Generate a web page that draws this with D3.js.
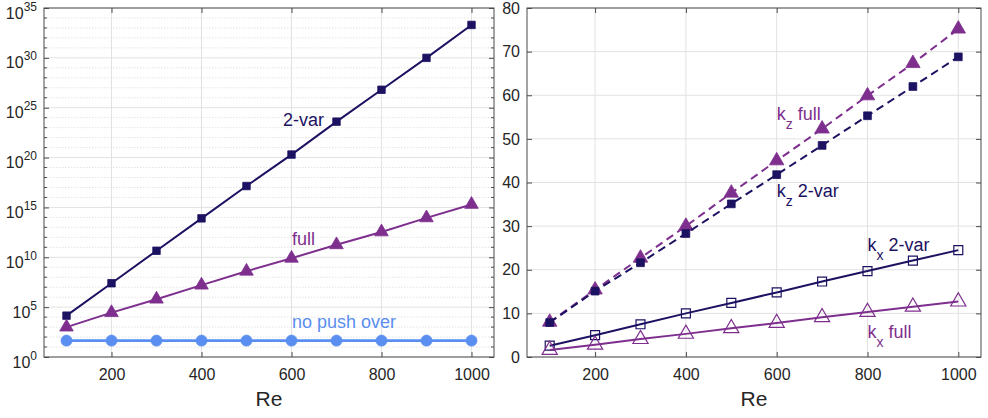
<!DOCTYPE html>
<html>
<head>
<meta charset="utf-8">
<script src="https://cdn.jsdelivr.net/npm/d3@7"></script>
<style>
  body { margin: 0; background: #fff; }
  text { font-family: "Liberation Sans", Arial, sans-serif; fill: #262626; }
</style>
</head>
<body>
<svg id="chart" width="988" height="418"></svg>
<script>
// Re values shared by both panels
const re = [100, 200, 300, 400, 500, 600, 700, 800, 900, 1000];

// left panel (log scale)
const growth2var = [1.4e4, 2.5e7, 4.5e10, 8e13, 1.4e17, 2e20, 4e23, 6.3e26, 1e30, 2e33];
const growthFull = [1e3, 2.8e4, 6.3e5, 1.6e7, 4e8, 8e9, 1.8e11, 3.5e12, 9e13, 2e15];
const growthNoPush = [44, 44, 44, 44, 44, 44, 44, 44, 44, 44];

// right panel (wavenumbers)
const kzFull = [8.0, 15.4, 22.7, 30.0, 37.6, 45.0, 52.3, 59.9, 67.3, 75.2];
const kz2var = [7.9, 15.1, 21.6, 28.3, 35.1, 41.8, 48.5, 55.3, 62.0, 68.8];
const kx2var = [2.6, 5.0, 7.5, 10.0, 12.4, 14.8, 17.3, 19.7, 22.1, 24.5];
const kxFull = [1.6, 2.8, 4.1, 5.3, 6.6, 7.8, 9.1, 10.3, 11.5, 12.7];

const reTicks = [200, 400, 600, 800, 1000];
const logTickExp = [0, 5, 10, 15, 20, 25, 30, 35];
const linTicks = [0, 10, 20, 30, 40, 50, 60, 70, 80];

const navy = "#1c1262";
const purple = "#7e2f8e";
const blue = "#5a8ef0";
const gridCol = "#e2e2e2";

const svg = d3.select("#chart");

function panel(xr, yScale, yTickVals, minorVals) {
  const x = d3.scaleLinear().domain([50, 1050]).range(xr);
  const y = yScale;
  const [top, bottom] = [y.range()[1], y.range()[0]];
  const g = svg.append("g");

  // grid
  g.selectAll(".gx").data(reTicks).enter().append("line")
    .attr("x1", d => x(d)).attr("x2", d => x(d))
    .attr("y1", top).attr("y2", bottom)
    .attr("stroke", gridCol).attr("stroke-width", 1);
  g.selectAll(".gmy").data(minorVals).enter().append("line")
    .attr("x1", xr[0]).attr("x2", xr[1])
    .attr("y1", d => y(d)).attr("y2", d => y(d))
    .attr("stroke", "#e4e4e4").attr("stroke-width", 1)
    .attr("stroke-dasharray", "1.5,1.5");
  g.selectAll(".gy").data(yTickVals).enter().append("line")
    .attr("x1", xr[0]).attr("x2", xr[1])
    .attr("y1", d => y(d)).attr("y2", d => y(d))
    .attr("stroke", gridCol).attr("stroke-width", 1);

  // ticks on all four sides, pointing inward
  const ax = g.append("g").attr("transform", `translate(0,${bottom})`)
    .call(d3.axisBottom(x).tickValues(reTicks).tickFormat(d3.format("d"))
      .tickSize(-5).tickPadding(12));
  const axTop = g.append("g").attr("transform", `translate(0,${top})`)
    .call(d3.axisTop(x).tickValues(reTicks).tickSize(-5).tickFormat(""));
  const ay = g.append("g").attr("transform", `translate(${xr[0]},0)`)
    .call(d3.axisLeft(y).tickValues(yTickVals).tickFormat(d3.format("d"))
      .tickSize(-5).tickPadding(7));
  const ayR = g.append("g").attr("transform", `translate(${xr[1]},0)`)
    .call(d3.axisRight(y).tickValues(yTickVals).tickSize(-5).tickFormat(""));
  [ax, axTop, ay, ayR].forEach(a => {
    a.select(".domain").remove();
    a.selectAll("line").attr("stroke", "#4a4a4a");
    a.selectAll("text").attr("font-size", 16).attr("fill", "#262626")
      .attr("font-family", "Liberation Sans, Arial, sans-serif");
  });
  if (minorVals.length) {
    g.selectAll(".mt").data(minorVals).enter().append("line")
      .attr("x1", xr[0]).attr("x2", xr[0] + 3)
      .attr("y1", d => y(d)).attr("y2", d => y(d))
      .attr("stroke", "#4a4a4a");
    g.selectAll(".mtr").data(minorVals).enter().append("line")
      .attr("x1", xr[1]).attr("x2", xr[1] - 3)
      .attr("y1", d => y(d)).attr("y2", d => y(d))
      .attr("stroke", "#4a4a4a");
  }

  g.append("rect")
    .attr("x", xr[0]).attr("y", top)
    .attr("width", xr[1] - xr[0]).attr("height", bottom - top)
    .attr("fill", "none").attr("stroke", "#4a4a4a").attr("stroke-width", 1);

  g.append("text")
    .attr("x", (xr[0] + xr[1]) / 2).attr("y", 406)
    .attr("text-anchor", "middle").attr("font-size", 21)
    .text("Re");

  return { g, x, y, ay };
}

function drawLine(p, vals, color, width, dash) {
  const line = d3.line().x((d, i) => p.x(re[i])).y(d => p.y(d));
  p.g.append("path").datum(vals)
    .attr("d", line).attr("fill", "none")
    .attr("stroke", color).attr("stroke-width", width)
    .attr("stroke-dasharray", dash || null);
}

function drawMarkers(p, vals, type, size, color, filled) {
  const sym = d3.symbol().type(type).size(size);
  p.g.selectAll(null).data(vals).enter().append("path")
    .attr("transform", (d, i) => `translate(${p.x(re[i])},${p.y(d)})`)
    .attr("d", sym)
    .attr("fill", filled ? color : "none")
    .attr("stroke", color).attr("stroke-width", filled ? 0.8 : 1.2);
}

function annotate(p, a) {
  const t = p.g.append("text")
    .attr("x", p.x(a.re)).attr("y", p.y(a.val))
    .attr("font-size", 18).style("fill", a.color);
  if (a.sub) {
    t.append("tspan").text("k");
    t.append("tspan").attr("dy", 9).attr("font-size", 14).text(a.sub);
    t.append("tspan").attr("dy", -9).text(" " + a.text);
  } else {
    t.text(a.text);
  }
}

// ----- left panel -----
const yLog = d3.scaleLog().domain([1, 1e35]).range([357, 8]);
const majorLog = logTickExp.map(e => Math.pow(10, e));
const minorLog = d3.range(1, 35).filter(e => e % 5 !== 0).map(e => Math.pow(10, e));
const L = panel([44, 494], yLog, majorLog, minorLog);

// superscript labels 10^n
L.ay.selectAll("text").each(function (d, i) {
  const t = d3.select(this).text("").attr("dy", null).attr("y", 10);
  t.append("tspan").text("10");
  t.append("tspan").attr("dy", -8).attr("font-size", 12).text(logTickExp[i]);
});

drawLine(L, growth2var, navy, 2);
drawMarkers(L, growth2var, d3.symbolSquare, 56, navy, true);
drawLine(L, growthFull, purple, 2);
drawMarkers(L, growthFull, d3.symbolTriangle, 80, purple, true);
drawLine(L, growthNoPush, blue, 2.8);
drawMarkers(L, growthNoPush, d3.symbolCircle, 95, blue, true);

const leftNotes = [
  { text: "2-var", re: 581, val: 1.5e23, color: navy },
  { text: "full", re: 601, val: 1.7e11, color: purple },
  { text: "no push over", re: 601, val: 8e2, color: blue }
];
leftNotes.forEach(a => annotate(L, a));

// ----- right panel -----
const yLin = d3.scaleLinear().domain([0, 80]).range([357, 8]);
const R = panel([527, 981], yLin, linTicks, []);

drawLine(R, kzFull, purple, 2, "8,5");
drawMarkers(R, kzFull, d3.symbolTriangle, 90, purple, true);
drawLine(R, kz2var, navy, 2, "8,5");
drawMarkers(R, kz2var, d3.symbolSquare, 60, navy, true);
drawLine(R, kx2var, navy, 2);
drawMarkers(R, kx2var, d3.symbolSquare, 80, navy, false);
drawLine(R, kxFull, purple, 2);
drawMarkers(R, kxFull, d3.symbolTriangle, 100, purple, false);

const rightNotes = [
  { text: "full", sub: "z", re: 600, val: 54.3, color: purple },
  { text: "2-var", sub: "z", re: 600, val: 36.6, color: navy },
  { text: "2-var", sub: "x", re: 800, val: 24.4, color: navy },
  { text: "full", sub: "x", re: 800, val: 4.4, color: purple }
];
rightNotes.forEach(a => annotate(R, a));
</script>
</body>
</html>
